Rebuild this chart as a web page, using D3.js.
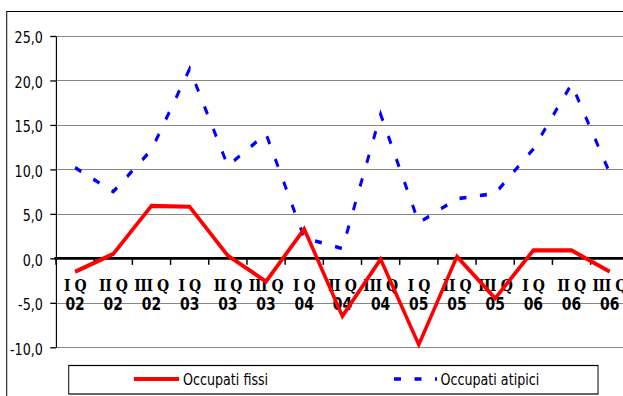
<!DOCTYPE html>
<html>
<head>
<meta charset="utf-8">
<script src="https://cdn.jsdelivr.net/npm/d3@7"></script>
<style>
  html, body { margin: 0; padding: 0; background: #fff; overflow: hidden; }
  svg { display: block; }
</style>
</head>
<body>
<svg id="chart" width="623" height="396"></svg>
<script>
// Quarterly changes (%) in permanent vs. atypical employment
const quarters = ["I Q", "II Q", "III Q", "I Q", "II Q", "III Q", "I Q", "II Q", "III Q",
                  "I Q", "II Q", "III Q", "I Q", "II Q", "III Q"];
const years    = ["02", "02", "02", "03", "03", "03", "04", "04", "04",
                  "05", "05", "05", "06", "06", "06"];
const fissi    = [-1.5, 0.5, 5.9, 5.8, 0.3, -2.6, 3.3, -6.5, -0.1, -9.7, 0.2, -4.5, 0.9, 0.9, -1.5];
const atipici  = [10.2, 7.5, 12.2, 21.3, 10.4, 14.0, 2.3, 1.1, 16.2, 4.0, 6.7, 7.3, 12.3, 19.6, 9.6];
const yTicks   = [-10, -5, 0, 5, 10, 15, 20, 25];
const seriesNames = ["Occupati fissi", "Occupati atipici"];

// The whole chart is laid out on a wider canvas and compressed horizontally.
const sx = 0.82;
const svg = d3.select("#chart");
const g = svg.append("g").attr("transform", `scale(${sx},1)`);

const plotLeft = 68.3, plotTop = 36, plotBottom = 347.3, step = 46.57, farRight = 800;
const x = d3.scaleBand()
  .domain(d3.range(quarters.length))
  .range([plotLeft, plotLeft + step * quarters.length])
  .paddingInner(0).paddingOuter(0);
const y = d3.scaleLinear().domain([-10, 25]).range([plotBottom, plotTop]);
const cx = i => x(i) + x.bandwidth() / 2;

// outer frame
g.append("path")
  .attr("d", `M8.2,400 V11.5 H${farRight}`)
  .attr("fill", "none").attr("stroke", "#000").attr("stroke-width", 1.2);

// horizontal gridlines
g.append("g").selectAll("line")
  .data(yTicks.filter(t => t !== 0))
  .join("line")
  .attr("x1", plotLeft).attr("x2", farRight)
  .attr("y1", d => Math.round(y(d)) + 0.5).attr("y2", d => Math.round(y(d)) + 0.5)
  .attr("stroke", "#7a7a7a").attr("stroke-width", 1);

// y axis
const yAxis = g.append("g")
  .attr("transform", `translate(${plotLeft},0)`)
  .call(d3.axisLeft(y)
    .tickValues(yTicks)
    .tickSize(7)
    .tickSizeOuter(0)
    .tickPadding(9)
    .tickFormat(d => d.toFixed(1).replace(".", ",")));
yAxis.select(".domain").attr("stroke", "#000").attr("stroke-width", 1.4);
yAxis.selectAll(".tick line").attr("stroke", "#000").attr("stroke-width", 1.3);
yAxis.selectAll(".tick text")
  .attr("fill", "#000")
  .attr("dy", "0.45em")
  .style("font-family", "'DejaVu Sans', Verdana, sans-serif")
  .style("font-size", "15.5px");

// zero line with category ticks
const y0 = y(0);
g.append("line")
  .attr("x1", plotLeft - 2).attr("x2", farRight)
  .attr("y1", y0).attr("y2", y0)
  .attr("stroke", "#000").attr("stroke-width", 2.6);
g.append("g").selectAll("line")
  .data(d3.range(quarters.length + 1))
  .join("line")
  .attr("x1", i => plotLeft + i * x.step()).attr("x2", i => plotLeft + i * x.step())
  .attr("y1", y0).attr("y2", y0 + 6.5)
  .attr("stroke", "#000").attr("stroke-width", 1.8);

// category labels (two rows)
const labels = g.append("g");
labels.selectAll("text.q")
  .data(quarters)
  .join("text")
  .attr("class", "q")
  .attr("x", (d, i) => cx(i)).attr("y", 291.5)
  .attr("text-anchor", "middle")
  .style("font-family", "'DejaVu Serif', serif")
  .style("font-weight", "bold")
  .style("font-size", "17px")
  .style("letter-spacing", "-0.5px")
  .text(d => d);
labels.selectAll("text.yr")
  .data(years)
  .join("text")
  .attr("class", "yr")
  .attr("x", (d, i) => cx(i)).attr("y", 310)
  .attr("text-anchor", "middle")
  .style("font-family", "'DejaVu Sans', sans-serif")
  .style("font-weight", "bold")
  .style("font-size", "17px")
  .text(d => d);

// series lines
const line = d3.line().x((d, i) => cx(i)).y(d => y(d));
g.append("path")
  .datum(atipici)
  .attr("d", line)
  .attr("fill", "none")
  .attr("stroke", "#0000ff")
  .attr("stroke-width", 3.6)
  .attr("stroke-dasharray", "8.5,16.5");
g.append("path")
  .datum(fissi)
  .attr("d", line)
  .attr("fill", "none")
  .attr("stroke", "#ff0000")
  .attr("stroke-width", 4.2)
  .attr("stroke-linejoin", "miter");

// legend
const lg = g.append("g");
lg.append("rect")
  .attr("x", 83.8).attr("y", 365.5).attr("width", 645.5).attr("height", 28.5)
  .attr("fill", "#fff").attr("stroke", "#000").attr("stroke-width", 1.2);
const legendItems = [
  { name: seriesNames[0], x1: 163.4, x2: 218.3, tx: 223.2, color: "#ff0000", w: 4.2, dash: null },
  { name: seriesNames[1], x1: 480.5, x2: 533.0, tx: 537.2, color: "#0000ff", w: 3.6, dash: "8.5,16.5" }
];
legendItems.forEach(it => {
  lg.append("line")
    .attr("x1", it.x1).attr("x2", it.x2).attr("y1", 379).attr("y2", 379)
    .attr("stroke", it.color).attr("stroke-width", it.w)
    .attr("stroke-dasharray", it.dash);
  lg.append("text")
    .attr("x", it.tx).attr("y", 385.5)
    .style("font-family", "'DejaVu Sans', Verdana, sans-serif")
    .style("font-size", "15.5px")
    .attr("fill", "#000")
    .text(it.name);
});
</script>
</body>
</html>
